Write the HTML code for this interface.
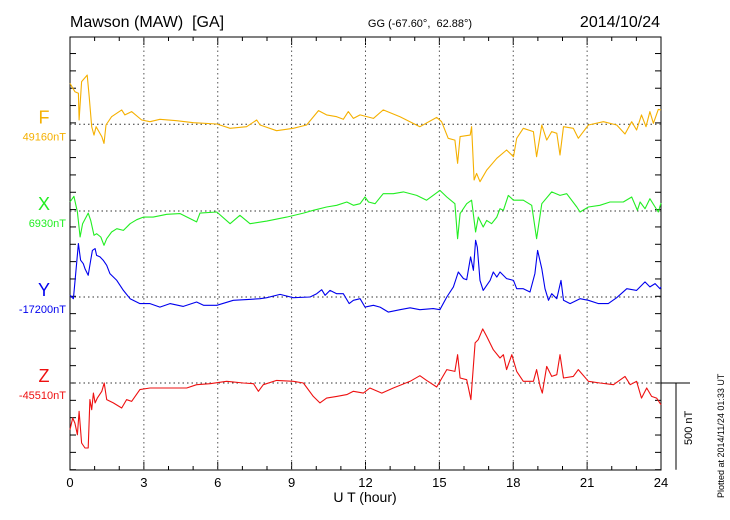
<!DOCTYPE html>
<html><head><meta charset="utf-8">
<style>
body{margin:0;background:#fff;}
svg{display:block;font-family:"Liberation Sans",sans-serif;}
text{white-space:pre;}
</style></head>
<body>
<svg id="chart" width="730" height="520" viewBox="0 0 730 520" xmlns="http://www.w3.org/2000/svg">
<text x="70" y="27" font-size="16" fill="#000" xml:space="preserve">Mawson (MAW)  [GA]</text>
<text x="420" y="27" font-size="11" text-anchor="middle" fill="#000" xml:space="preserve">GG (-67.60°,  62.88°)</text>
<text x="660" y="27" font-size="16" text-anchor="end" fill="#000">2014/10/24</text>
<text x="365" y="502" font-size="14" text-anchor="middle" fill="#000">U T (hour)</text>
<text transform="translate(724,498) rotate(-90)" font-size="9" fill="#000">Plotted at 2014/11/24 01:33 UT</text>
<g id="axes"></g>
<g id="series"></g>
</svg>
<script>
const F_t=[0,0.2,0.34,0.37,0.47,0.7,0.78,0.88,0.975,1.06,1.29,1.38,1.46,1.69,2.1,2.23,2.5,2.91,3.25,3.65,4.33,5.01,5.96,6.5,7.17,7.58,7.72,8.39,9.07,9.61,10.09,10.42,10.83,11.1,11.3,11.51,11.78,12.32,12.72,13.4,14.21,14.89,15.09,15.36,15.63,15.74,15.84,16.25,16.31,16.41,16.51,16.65,16.92,17.33,17.73,18.01,18.14,18.41,18.82,18.95,19.16,19.36,19.56,19.77,19.9,20.04,20.44,20.64,21.05,21.66,22.2,22.54,22.81,23.01,23.21,23.39,23.55,23.69,23.89,24];
const F_v=[236,188,179,25,246,284,159,-14,-62,-14,-71,-110,-4,44,83,54,73,25,15,29,21,9,2,-23,-14,25,-4,-37,-23,-4,79,54,44,29,73,34,54,34,83,44,-14,40,15,-81,-91,-225,-71,-62,-14,-321,-283,-331,-264,-196,-148,-187,-81,-23,-42,-187,-4,-91,-42,-52,-177,-14,-23,-81,-4,15,-4,-56,15,-33,54,-14,73,6,86,83];
const X_t=[0,0.16,0.3,0.41,0.51,0.74,0.84,0.975,1.08,1.25,1.38,1.49,1.69,1.9,2.17,2.44,2.71,2.98,3.38,3.93,4.47,5.14,5.28,5.96,6.5,6.9,7.31,7.99,8.8,9.48,9.88,10.42,10.83,11.24,11.51,11.78,11.98,12.12,12.39,12.72,13.13,13.54,14.08,14.48,15.02,15.3,15.63,15.74,15.84,16.11,16.31,16.47,16.58,16.78,16.92,17.12,17.33,17.46,17.6,17.8,18.01,18.41,18.75,18.95,19.16,19.56,19.9,20.17,20.58,20.71,21.05,21.52,21.93,22.47,22.81,23.04,23.15,23.35,23.55,23.76,23.89,24];
const X_v=[52,85,-6,-150,-73,-12,-54,-140,-131,-150,-198,-160,-121,-102,-112,-73,-50,-35,-35,-19,-15,-63,-12,-6,-73,-25,-73,-58,-35,-12,4,23,33,52,33,42,81,52,42,100,100,110,90,62,119,81,42,-160,-15,42,62,-121,-35,-92,-54,-73,-35,13,4,90,62,62,33,-160,42,110,90,100,23,-6,23,33,52,52,81,4,52,13,71,23,-6,46];
const Y_t=[0,0.14,0.23,0.34,0.43,0.54,0.61,0.74,0.84,0.91,1.02,1.08,1.22,1.35,1.49,1.62,1.9,2.17,2.44,2.84,3.25,3.65,4.06,4.6,5.14,5.42,5.96,6.63,7.17,7.72,7.99,8.53,9.07,9.75,10.02,10.22,10.36,10.56,10.83,11.1,11.34,11.51,11.78,11.98,12.32,12.59,12.93,13.4,13.81,14.21,14.75,15.02,15.3,15.57,15.77,15.98,16.11,16.27,16.38,16.47,16.54,16.65,16.78,17.06,17.19,17.33,17.46,17.73,18.01,18.14,18.41,18.68,18.88,18.99,19.16,19.29,19.43,19.56,19.77,19.94,20.04,20.31,20.71,21.05,21.46,21.86,22.2,22.61,23.01,23.35,23.55,23.76,23.96,24];
const Y_v=[10,-10,135,308,212,192,163,125,212,269,279,240,231,212,183,135,96,38,-10,-38,-38,-58,-38,-54,-29,-48,-48,-19,-15,-10,-4,15,-4,0,19,42,10,38,19,19,-38,-19,-10,-58,-48,-58,-87,-73,-62,-73,-67,-73,0,58,144,106,100,231,154,327,288,96,38,96,144,115,144,106,96,48,48,29,135,269,163,48,-19,19,-10,96,-19,-38,-10,-19,-38,-38,-4,48,38,87,58,77,48,58];
const Z_t=[0,0.11,0.2,0.3,0.37,0.47,0.61,0.74,0.81,0.88,0.95,1.02,1.11,1.29,1.39,1.49,1.76,2.1,2.3,2.5,2.84,3.25,3.65,4.2,4.74,5.14,5.69,6.36,7.04,7.45,7.65,7.85,8.39,9.07,9.48,9.88,10.15,10.42,10.83,11.24,11.51,11.91,12.18,12.66,13.13,13.81,14.21,14.48,14.89,15.3,15.63,15.74,15.84,16.11,16.28,16.45,16.58,16.76,16.92,17.19,17.46,17.6,17.73,17.94,18.14,18.41,18.82,18.95,19.09,19.18,19.36,19.56,19.77,19.9,20.04,20.44,20.64,21.05,21.52,22.07,22.54,22.75,23.01,23.21,23.42,23.62,23.82,24];
const Z_v=[-269,-202,-231,-298,-163,-346,-375,-375,-96,-154,-58,-115,-87,-48,0,-96,-115,-144,-96,-106,-38,-29,-29,-29,-29,-10,-4,10,0,-4,-48,-10,15,10,0,-77,-115,-87,-77,-67,-48,-58,-29,-58,-29,10,42,15,-23,77,67,163,29,19,-96,231,250,312,269,192,144,163,77,163,67,10,10,77,-19,-58,96,38,48,163,29,38,77,10,0,-10,38,-10,10,-87,-29,-77,-87,-125];
const xTickLabels=["0","3","6","9","12","15","18","21","24"];
const compNames=["F","X","Y","Z"];
const baseLabels=["49160nT","6930nT","-17200nT","-45510nT"];

const NS="http://www.w3.org/2000/svg";
const L=70,R=661,T=37,B=470;
const PXNT=86.7/500;
const baselines=[124.3,211,297,383];
const colors=["#f5b000","#22ee22","#0000ee","#ee1010"];
function xs(h){return L+h/24*(R-L);}
function ys(i,v){return baselines[i]-v*PXNT;}
function mk(tag,attrs,parent){const e=document.createElementNS(NS,tag);for(const k in attrs)e.setAttribute(k,attrs[k]);parent.appendChild(e);return e;}
const ax=document.getElementById('axes');
const sg=document.getElementById('series');
let fr=mk('rect',{x:L,y:T,width:R-L,height:B-T,fill:'none',stroke:'#000','stroke-width':1},ax);


for(let h=0;h<=24;h++){
  const x=xs(h);
  let tk=mk('line',{x1:x,x2:x,y1:B,y2:B-(h%3==0?8:4),stroke:'#000'},ax);
  
  
  let tt=mk('line',{x1:x,x2:x,y1:T,y2:T+(h%3==0?8:4),stroke:'#000'},ax);
  
  
  if(h%3==0){
    if(h>0&&h<24){
      let g=mk('line',{x1:x,x2:x,y1:T,y2:B,stroke:'#555','stroke-dasharray':'1.5,3'},ax);
      
      
    }
    let t=mk('text',{x:x,y:B+17,'font-size':13,'text-anchor':'middle',fill:'#000'},ax);
    t.textContent=xTickLabels[h/3];
    
    
  }
}
for(let y=baselines[3]+86.7;y>T;y-=17.34){
  let a=mk('line',{x1:L,x2:L+6,y1:y,y2:y,stroke:'#000'},ax);
  
  
  let b=mk('line',{x1:R-6,x2:R,y1:y,y2:y,stroke:'#000'},ax);
  
  
}
for(let i=0;i<4;i++){
  const y=baselines[i];
  let bl=mk('line',{x1:L,x2:R,y1:y,y2:y,stroke:'#333','stroke-dasharray':'1.5,3'},ax);
  
  
  let n=mk('text',{x:44,y:y-1,'font-size':18,'text-anchor':'middle',fill:colors[i]},ax);
  n.textContent=compNames[i];
  
  
  let v=mk('text',{x:66,y:y+16,'font-size':11,'text-anchor':'end',fill:colors[i]},ax);
  v.textContent=baseLabels[i];
  
  
}
let s1=mk('line',{x1:R,x2:690,y1:baselines[3],y2:baselines[3],stroke:'#000'},ax);


let s2=mk('line',{x1:676,x2:676,y1:baselines[3],y2:baselines[3]+86.7,stroke:'#000'},ax);


let s3=mk('text',{transform:'translate(692,445) rotate(-90)','font-size':11,fill:'#000'},ax);
s3.textContent='500 nT';


const series=[[F_t,F_v],[X_t,X_v],[Y_t,Y_v],[Z_t,Z_v]];
series.forEach((s,i)=>{
  const pts=s[0].map((t,k)=>xs(t).toFixed(1)+','+ys(i,s[1][k]).toFixed(1)).join(' ');
  let p=mk('polyline',{points:pts,fill:'none',stroke:colors[i],'stroke-width':1.1,'stroke-linejoin':'round'},sg);
  
  
});
</script>
</body></html>
